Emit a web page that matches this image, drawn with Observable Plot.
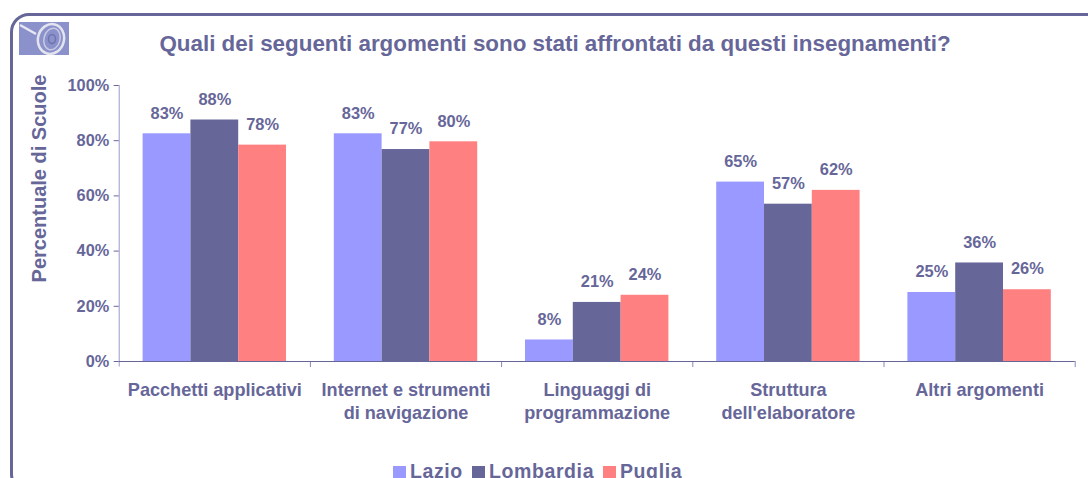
<!DOCTYPE html>
<html><head><meta charset="utf-8">
<script src="https://cdn.jsdelivr.net/npm/d3@7"></script>
<script src="https://cdn.jsdelivr.net/npm/@observablehq/plot@0.6"></script>
<style>
html,body{margin:0;padding:0;background:#fff;overflow:hidden}
#page{position:relative;width:1088px;height:478px;overflow:hidden;font-family:"Liberation Sans",Arial,sans-serif;font-weight:bold;color:#666699}
#frame{position:absolute;left:10px;top:13px;width:1100px;height:480px;border:3px solid #666699;border-radius:19px;box-sizing:border-box}
#logo{position:absolute;left:19px;top:22px}
#title{position:absolute;left:0;width:1110px;top:30px;text-align:center;font-size:22.4px;line-height:28px;white-space:nowrap}
#legend{position:absolute;top:459px;left:393px;height:24px;font-size:19.5px;line-height:24px;white-space:nowrap;letter-spacing:.6px}
#legend i{position:absolute;top:7px;width:13px;height:13px}
#legend span{position:absolute;top:0}
#chart{position:absolute;left:0;top:0}
svg{display:block}
</style></head><body>
<div id="page">
<div id="frame"></div>
<svg id="logo" width="50" height="33" viewBox="0 0 50 33">
  <rect width="50" height="33" fill="#8b91cb"/>
  <path d="M1 3 L17 12" stroke="#e8e8f2" stroke-width="2.5" fill="none"/>
  <ellipse cx="32" cy="17" rx="13" ry="15" transform="rotate(15 32 17)" fill="none" stroke="#e4e4ee" stroke-width="2.5"/>
  <ellipse cx="33" cy="17" rx="8" ry="11" transform="rotate(15 33 17)" fill="none" stroke="#c9cbe4" stroke-width="1.5"/>
  <ellipse cx="33" cy="17" rx="3.5" ry="4.5" fill="none" stroke="#6f74ad" stroke-width="1.5"/>
</svg>
<div id="title">Quali dei seguenti argomenti sono stati affrontati da questi insegnamenti?</div>
<div id="chart"></div>
<div id="legend"></div>
</div>
<script>
const categories = ["Pacchetti applicativi", "Internet e strumenti\ndi navigazione", "Linguaggi di\nprogrammazione", "Struttura\ndell'elaboratore", "Altri argomenti"];
const regions = ["Lazio", "Lombardia", "Puglia"];
const colors = ["#9999FF", "#666699", "#FF8080"];
const lazio = [82.5, 82.5, 7.8, 65, 25];
const lombardia = [87.5, 76.8, 21.4, 57, 35.7];
const puglia = [78.4, 79.6, 24, 62, 26];
const yTicks = [0, 20, 40, 60, 80, 100];
const ink = "#666699";

const series = [lazio, lombardia, puglia];
const rows = categories.flatMap((c, i) => regions.map((r, j) => ({
  category: c, region: r, value: series[j][i],
  x1: i + (j + 0.5) / 4, x2: i + (j + 1.5) / 4, xc: i + (j + 1) / 4
})));

const chart = Plot.plot({
  width: 1088, height: 478,
  marginLeft: 118.7, marginRight: 13.3, marginTop: 85, marginBottom: 117,
  style: {fontFamily: '"Liberation Sans",Arial,sans-serif', fontWeight: "bold", fontSize: "16px", background: "transparent", overflow: "visible"},
  x: {type: "linear", domain: [0, categories.length]},
  y: {domain: [0, 100]},
  color: {domain: regions, range: colors},
  marks: [
    Plot.rectY(rows, {x1: "x1", x2: "x2", y1: 0, y2: "value", fill: "region", inset: 0}),
    Plot.ruleX([0], {y1: -2, y2: 100, stroke: "#9999cc", strokeWidth: 1}),
    Plot.ruleX(d3.range(1, categories.length + 1), {y1: -2.2, y2: 0, stroke: "#8888bb", strokeWidth: 1}),
    Plot.ruleY([0], {stroke: ink, strokeWidth: 1.2}),
    Plot.axisY({ticks: yTicks, tickFormat: d => d + "%", tickSize: 5, tickPadding: 5, stroke: ink, fill: ink, label: null, fontSize: 16.3, fontWeight: "bold"}),
    Plot.axisX({ticks: categories.map((c, i) => i + 0.5), tickFormat: d => categories[d - 0.5], tickSize: 0, tickPadding: 18, fill: ink, label: null, fontSize: 18.1, fontWeight: "bold", lineHeight: 1.27, lineAnchor: "top"}),
    Plot.text(rows, {x: "xc", y: "value", text: d => Math.round(d.value) + "%", dy: -20.5, fill: ink, fontSize: 16.4, fontWeight: "bold", lineAnchor: "middle"}),
    Plot.text(["Percentuale di Scuole"], {frameAnchor: "left", y: 66.3, dx: -80, rotate: -90, fill: ink, fontSize: 20, fontWeight: "bold", lineAnchor: "middle", textAnchor: "middle"})
  ]
});
document.getElementById("chart").append(chart);

const legend = document.getElementById("legend");
const swatchX = [0, 79, 210], labelX = [17, 96, 227];
regions.forEach((r, i) => {
  const s = document.createElement("i"); s.style.left = swatchX[i] + "px"; s.style.background = colors[i]; legend.append(s);
  const t = document.createElement("span"); t.style.left = labelX[i] + "px"; t.textContent = r; legend.append(t);
});
</script>
</body></html>
